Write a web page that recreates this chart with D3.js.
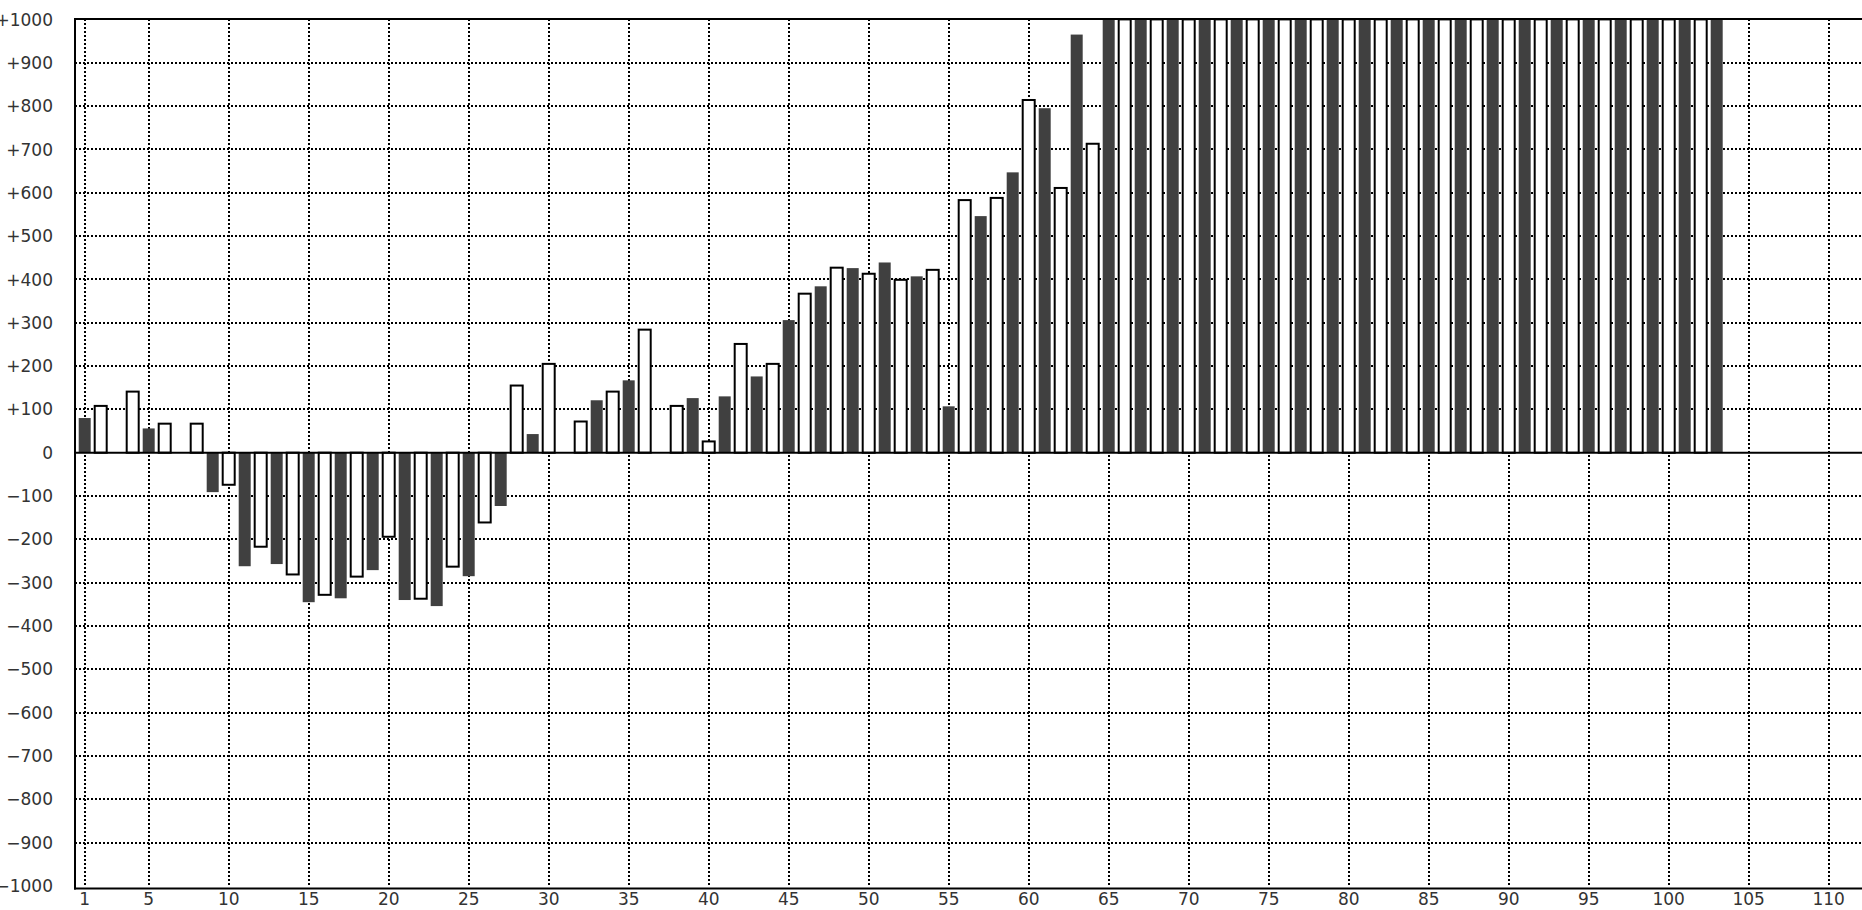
<!DOCTYPE html>
<html>
<head>
<meta charset="utf-8">
<script src="https://cdn.jsdelivr.net/npm/d3@7"></script>
<style>
  html, body { margin: 0; padding: 0; background: #fff; }
  svg { display: block; }
  text { font-family: "DejaVu Sans", sans-serif; fill: #333; }
</style>
</head>
<body>
<svg id="chart" width="1862" height="910"></svg>
<script>
// ---- data ----
// bar values for positions 1..103; null = no bar
const values = [
  80, 108, null, 141, 56, 67, null, 67, -91, -74,
  -262, -217, -257, -281, -345, -328, -336, -286, -271, -194,
  -340, -337, -354, -263, -285, -161, -123, 155, 43, 205,
  null, 72, 121, 141, 167, 284, null, 108, 126, 26,
  130, 251, 176, 205, 306, 367, 384, 427, 426, 413,
  439, 399, 407, 422, 107, 583, 546, 588, 647, 814,
  795, 611, 965, 713, 1000, 1000, 1000, 1000, 1000, 1000,
  1000, 1000, 1000, 1000, 1000, 1000, 1000, 1000, 1000, 1000,
  1000, 1000, 1000, 1000, 1000, 1000, 1000, 1000, 1000, 1000,
  1000, 1000, 1000, 1000, 1000, 1000, 1000, 1000, 1000, 1000,
  1000, 1000, 1000
];
const xTicks = [1, 5, 10, 15, 20, 25, 30, 35, 40, 45, 50, 55, 60, 65, 70, 75, 80, 85, 90, 95, 100, 105, 110];
const yTicks = [1000, 900, 800, 700, 600, 500, 400, 300, 200, 100, 0, -100, -200, -300, -400, -500, -600, -700, -800, -900, -1000];
const yDomain = [-1000, 1000];

// ---- layout ----
const svg = d3.select("#chart");
const plotLeft = 75, plotTop = 19, plotBottom = 886, plotRight = 1862;
const x = d3.scaleLinear().domain([0, 112]).range([68.7, 1860.7]);
const y = d3.scaleLinear().domain(yDomain).range([886, 19.4]);
const barW = 12;

const data = values.map((v, i) => ({ idx: i + 1, v })).filter(d => d.v !== null);

svg.append("defs").append("clipPath").attr("id", "plotClip")
  .append("rect").attr("x", plotLeft).attr("y", plotTop)
  .attr("width", plotRight - plotLeft).attr("height", plotBottom - plotTop);

const plot = svg.append("g").attr("clip-path", "url(#plotClip)");

// grid
plot.append("g").selectAll("line").data(yTicks.filter(t => t !== 0 && Math.abs(t) !== 1000))
  .join("line")
  .attr("x1", plotLeft).attr("x2", plotRight)
  .attr("y1", d => Math.round(y(d)) + 0.5 - 0.5).attr("y2", d => Math.round(y(d)))
  .attr("stroke", "#000").attr("stroke-width", 2).attr("stroke-dasharray", "2,2");
plot.append("g").selectAll("line").data(xTicks)
  .join("line")
  .attr("x1", d => Math.round(x(d))).attr("x2", d => Math.round(x(d)))
  .attr("y1", plotTop).attr("y2", plotBottom)
  .attr("stroke", "#000").attr("stroke-width", 2).attr("stroke-dasharray", "2,2");

// bars
plot.append("g").selectAll("rect").data(data)
  .join("rect")
  .attr("x", d => x(d.idx) - barW / 2)
  .attr("width", barW)
  .attr("y", d => Math.min(y(d.v), y(0)))
  .attr("height", d => Math.abs(y(d.v) - y(0)))
  .attr("fill", d => d.idx % 2 === 1 ? "#404040" : "#ffffff")
  .attr("stroke", d => d.idx % 2 === 1 ? "none" : "#000")
  .attr("stroke-width", 2);

// zero line
svg.append("line")
  .attr("x1", plotLeft).attr("x2", plotRight)
  .attr("y1", y(0)).attr("y2", y(0))
  .attr("stroke", "#000").attr("stroke-width", 2);

// frame
svg.append("line").attr("x1", plotLeft - 1).attr("x2", plotRight).attr("y1", plotTop).attr("y2", plotTop)
  .attr("stroke", "#000").attr("stroke-width", 2);
svg.append("line").attr("x1", plotLeft - 1).attr("x2", plotRight).attr("y1", 888.5).attr("y2", 888.5)
  .attr("stroke", "#000").attr("stroke-width", 2);
svg.append("line").attr("x1", plotLeft).attr("x2", plotLeft).attr("y1", plotTop - 1).attr("y2", 889.5)
  .attr("stroke", "#000").attr("stroke-width", 2);

// y labels
const fmt = d3.format("+");
svg.append("g").selectAll("text").data(yTicks)
  .join("text")
  .attr("x", 53).attr("y", d => y(d))
  .attr("dy", "0.36em")
  .attr("text-anchor", "end")
  .attr("font-size", 17)
  .text(d => d === 0 ? "0" : fmt(d));

// x labels
svg.append("g").selectAll("text").data(xTicks)
  .join("text")
  .attr("x", d => x(d)).attr("y", 899)
  .attr("dy", "0.36em")
  .attr("text-anchor", "middle")
  .attr("font-size", 17)
  .text(d => d);
</script>
</body>
</html>
